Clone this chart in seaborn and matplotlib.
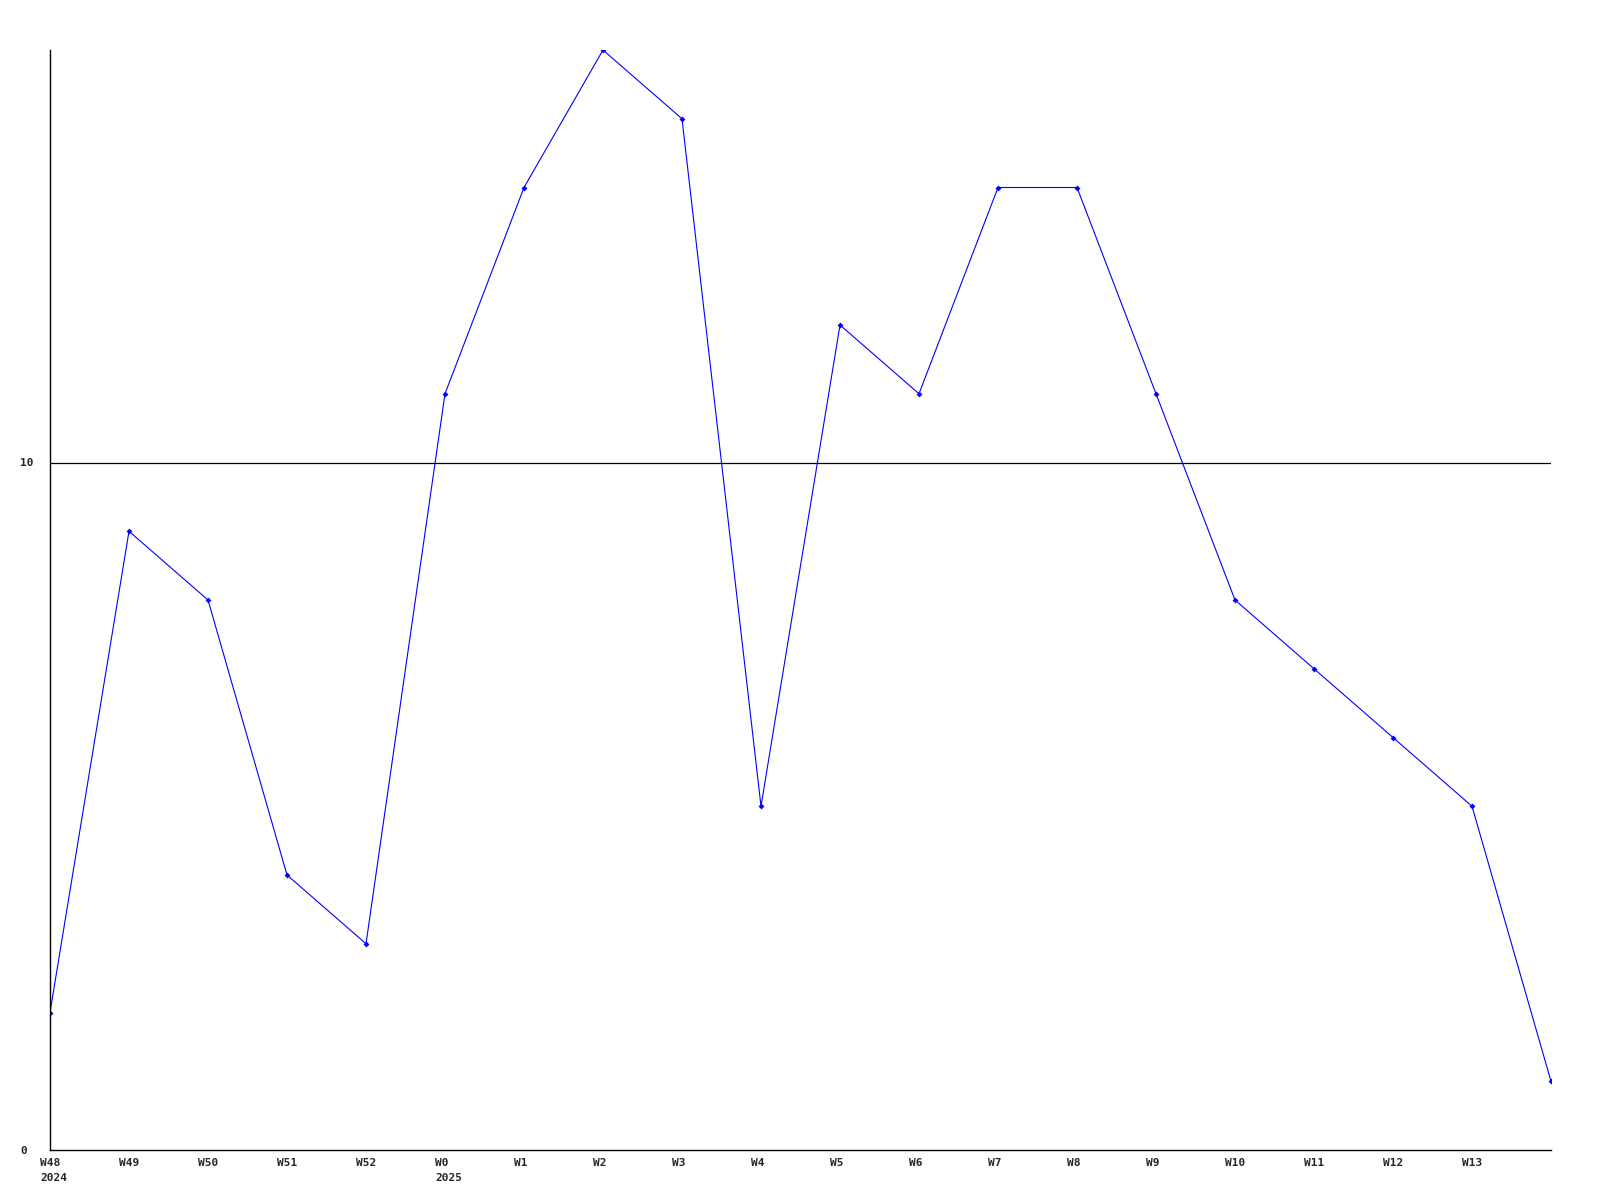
import matplotlib
matplotlib.use("Agg")
import matplotlib.pyplot as plt
import matplotlib.transforms as mtransforms
import seaborn as sns
import pandas as pd

# weekly counts, W48 2024 .. W14 2025
weeks = ["W48", "W49", "W50", "W51", "W52", "W0", "W1", "W2", "W3", "W4",
         "W5", "W6", "W7", "W8", "W9", "W10", "W11", "W12", "W13", "W14"]
years = ["2024", "", "", "", "", "2025", "", "", "", "",
         "", "", "", "", "", "", "", "", "", ""]
counts = [2, 9, 8, 4, 3, 11, 14, 16, 15, 5,
          12, 11, 14, 14, 11, 8, 7, 6, 5, 1]

df = pd.DataFrame({"idx": range(len(weeks)), "count": counts})

sns.set_theme(style="white")
plt.rcParams['font.family'] = ['DejaVu Sans Mono']

fig = plt.figure(figsize=(16, 12), dpi=100)
ax = fig.add_axes([50 / 1600, 1 - 1150 / 1200, 1501 / 1600, 1100 / 1200])

sns.lineplot(data=df, x="idx", y="count", ax=ax, color="#0000ff",
             linewidth=0.8, marker="D", markersize=3, markeredgewidth=0)

ax.set_xlim(0, len(weeks) - 1)
ax.set_ylim(0, 16)

# tick labels: week, with the year under the first week of each year
tick_labels = [w + ("\n" + y if y else "") for w, y in zip(weeks, years)]
ax.set_xticks(range(len(weeks) - 1))
ax.set_xticklabels(tick_labels[:-1], fontsize=8, fontweight="bold",
                   ha="left", linespacing=1.6)

ax.set_yticks([0, 10])
ax.set_yticklabels(["0", "10"], fontsize=8, fontweight="bold", ha="left")
ax.tick_params(axis="x", length=0, pad=6)
ax.tick_params(axis="y", length=0, pad=21.6)

ax.axhline(10, color="black", linewidth=0.9, zorder=0)

sns.despine(ax=ax, top=True, right=True)
for side in ["left", "bottom"]:
    ax.spines[side].set_color("black")
    ax.spines[side].set_linewidth(1.0)

ax.set_xlabel("")
ax.set_ylabel("")

# nudge the x labels a little to the left of their ticks
fig.canvas.draw()
shift = mtransforms.ScaledTranslation(-10 / 100, 0, fig.dpi_scale_trans)
for tick in ax.xaxis.get_major_ticks():
    tick.label1.set_transform(tick.label1.get_transform() + shift)

fig.savefig("out.png", dpi=100)
plt.close(fig)
